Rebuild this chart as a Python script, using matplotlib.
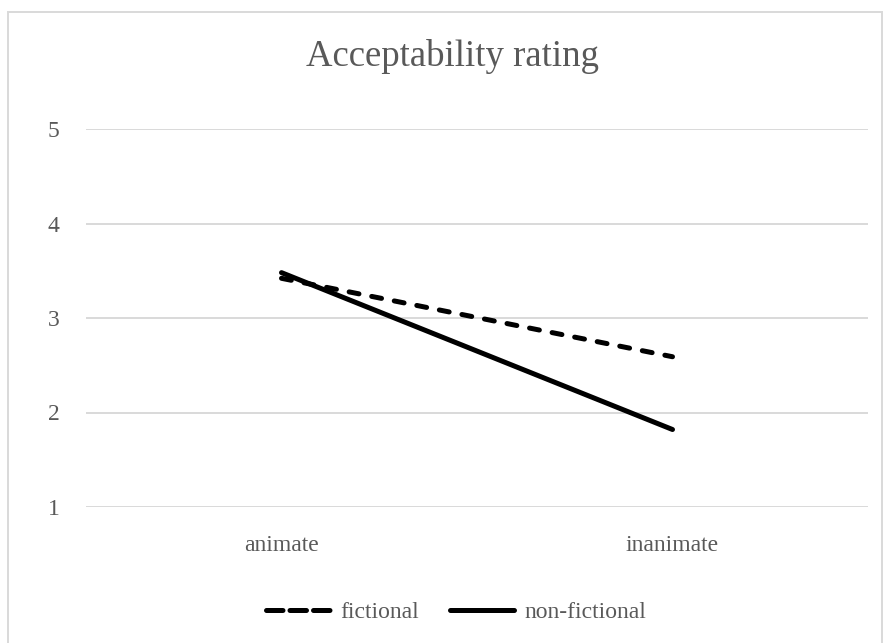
import matplotlib
matplotlib.use("Agg")
import matplotlib.pyplot as plt
from matplotlib.lines import Line2D
from matplotlib.patches import Rectangle

categories = ["animate", "inanimate"]
fictional = [3.42, 2.59]
non_fictional = [3.48, 1.82]
y_ticks = [1, 2, 3, 4, 5]

TEXT = "#595959"
GRID = "#D9D9D9"
SERIF = ["Liberation Serif", "DejaVu Serif"]

W, H = 883, 643
fig = plt.figure(figsize=(W / 100, H / 100), dpi=100)

# outer chart border like the Excel chart area
fig.patches.append(Rectangle((8 / W, -0.05), (882 - 8) / W, 1.05 - 12 / H,
                             transform=fig.transFigure, fill=False,
                             edgecolor=GRID, linewidth=1.4))

ax = fig.add_axes([86 / W, 1 - 507 / H, (868 - 86) / W, (507 - 129) / H])

x = [0, 1]
ax.plot(x, fictional, color="black", linewidth=3.6, linestyle=(0, (2.0, 2.6)),
        dash_capstyle="round", solid_capstyle="round")
ax.plot(x, non_fictional, color="black", linewidth=3.6, solid_capstyle="round")

ax.set_xlim(-0.5, 1.5)
ax.set_ylim(1, 5)
ax.set_yticks(y_ticks)
ax.set_xticks(x)
ax.set_xticklabels(categories)
ax.yaxis.grid(True, color=GRID, linewidth=1.4)
ax.set_axisbelow(True)
for s in ax.spines.values():
    s.set_visible(False)
ax.tick_params(length=0, labelcolor=TEXT, labelsize=17)
ax.tick_params(axis="y", pad=19)
ax.tick_params(axis="x", pad=20)
for lab in ax.get_xticklabels() + ax.get_yticklabels():
    lab.set_fontfamily(SERIF)

fig.text(452 / W, 1 - 57 / H, "Acceptability rating", ha="center", va="center",
         color=TEXT, fontsize=26.5, family=SERIF)

handles = [
    Line2D([], [], color="black", linewidth=3.6, linestyle=(0, (3.3, 1.4)),
           dash_capstyle="round"),
    Line2D([], [], color="black", linewidth=3.6, solid_capstyle="round"),
]
leg = fig.legend(handles, ["fictional", "non-fictional"], loc="center",
                 bbox_to_anchor=(456 / W, 1 - 612 / H), ncol=2, frameon=False,
                 handlelength=2.7, handletextpad=0.45, columnspacing=1.3,
                 prop={"family": SERIF, "size": 17})
for t in leg.get_texts():
    t.set_color(TEXT)

fig.savefig("out.png", dpi=100)
